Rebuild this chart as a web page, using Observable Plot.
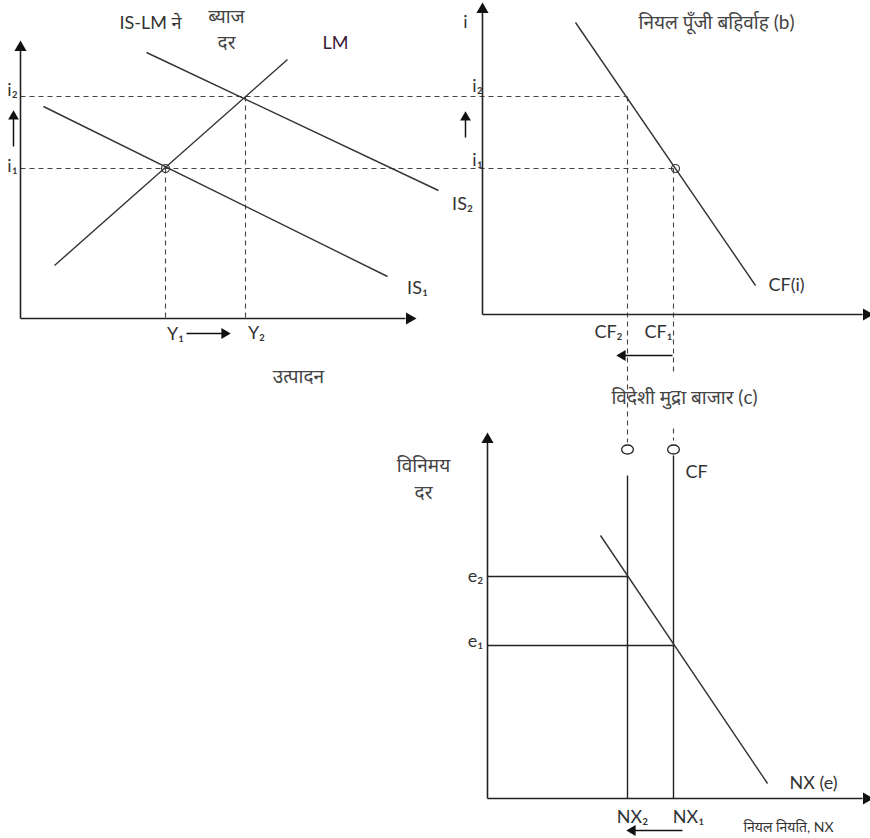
<!DOCTYPE html>
<html><head><meta charset="utf-8">
<script src="https://cdn.jsdelivr.net/npm/d3@7"></script>
<script src="https://cdn.jsdelivr.net/npm/@observablehq/plot@0.6"></script>
<style>body{margin:0;background:#fff} #chart svg{display:block}</style>
</head><body><div id="chart"></div><script>
// Diagram coordinate system: x to the right, y downward (0..870, 0..838)
const axisLines = [
  {x1: 20, y1: 318, x2: 20, y2: 50},
  {x1: 20, y1: 318, x2: 405, y2: 318},
  {x1: 482, y1: 314, x2: 482, y2: 12},
  {x1: 482, y1: 314, x2: 862, y2: 314},
  {x1: 487, y1: 798, x2: 487, y2: 442},
  {x1: 487, y1: 798, x2: 862, y2: 798}
];
const axisHeads = [
  {x: 20, y: 47, r: 0}, {x: 409, y: 318, r: 90},
  {x: 482, y: 9, r: 0}, {x: 866, y: 314, r: 90},
  {x: 487, y: 439, r: 0}, {x: 866, y: 798, r: 90}
];
const curves = [
  {name: "LM", x1: 54, y1: 265, x2: 287, y2: 59},
  {name: "IS1", x1: 43, y1: 106, x2: 387, y2: 276},
  {name: "IS2", x1: 146, y1: 52, x2: 438, y2: 190},
  {name: "CF(i)", x1: 575, y1: 22, x2: 755, y2: 285},
  {name: "NX(e)", x1: 600, y1: 535, x2: 767, y2: 783}
];
const dashedGuides = [
  {x1: 20, y1: 96, x2: 625, y2: 96},
  {x1: 20, y1: 168, x2: 673, y2: 168},
  {x1: 165, y1: 168, x2: 165, y2: 318},
  {x1: 245, y1: 96, x2: 245, y2: 318},
  {x1: 627, y1: 96, x2: 627, y2: 442},
  {x1: 673, y1: 168, x2: 673, y2: 375},
  {x1: 673, y1: 428, x2: 673, y2: 440}
];
const solidGuides = [
  {x1: 487, y1: 576, x2: 627, y2: 576},
  {x1: 487, y1: 645, x2: 673, y2: 645},
  {x1: 627, y1: 475, x2: 627, y2: 798},
  {x1: 673, y1: 455, x2: 673, y2: 798}
];
const arrows = [
  {x1: 186, y1: 333, x2: 224, y2: 333},
  {x1: 13, y1: 146, x2: 13, y2: 116},
  {x1: 465, y1: 137, x2: 465, y2: 117},
  {x1: 672, y1: 355, x2: 622, y2: 355},
  {x1: 682, y1: 830, x2: 632, y2: 830}
];
const equilibria = [{x: 165, y: 168}, {x: 675, y: 168}];
const openEnds = [{x: 627, y: 449}, {x: 673, y: 449}];
const labels = [
  {t: "IS-LM ने", x: 150, y: 23},
  {t: "IS₁", x: 417, y: 288},
  {t: "i₂", x: 12, y: 90},
  {t: "i₁", x: 12, y: 166},
  {t: "Y₁", x: 175, y: 334},
  {t: "Y₂", x: 256, y: 333},
  {t: "i", x: 465, y: 22},
  {t: "i₂", x: 477, y: 86},
  {t: "i₁", x: 477, y: 160},
  {t: "IS₂", x: 462, y: 204},
  {t: "CF(i)", x: 786, y: 285},
  {t: "CF₂", x: 608, y: 332},
  {t: "CF₁", x: 658, y: 332},
  {t: "CF", x: 696, y: 472},
  {t: "e₂", x: 475, y: 576},
  {t: "e₁", x: 475, y: 641},
  {t: "NX (e)", x: 813, y: 783},
  {t: "NX₂", x: 632, y: 817},
  {t: "NX₁", x: 688, y: 817}
];
const hindiLabels = [
  {t: "ब्याज", x: 226, y: 16},
  {t: "दर", x: 226, y: 42},
  {t: "उत्पादन", x: 298, y: 376},
  {t: "नियल पूँजी बहिर्वाह (b)", x: 716, y: 22},
  {t: "विदेशी मुद्रा बाजार (c)", x: 684, y: 397},
  {t: "विनिमय", x: 423, y: 465},
  {t: "दर", x: 423, y: 492}
];
const accentLabels = [{t: "LM", x: 335, y: 43}];
const smallLabels = [{t: "नियल नियति, NX", x: 788, y: 827}];

const heads = arrows.map(a => ({
  x: a.x2, y: a.y2,
  r: Math.atan2(a.x2 - a.x1, -(a.y2 - a.y1)) * 180 / Math.PI
}));
const ellipse = {
  draw(ctx, size) {
    const r = Math.sqrt(size / Math.PI), rx = r * 1.3, ry = r, k = 0.5523;
    ctx.moveTo(rx, 0);
    ctx.bezierCurveTo(rx, ry * k, rx * k, ry, 0, ry);
    ctx.bezierCurveTo(-rx * k, ry, -rx, ry * k, -rx, 0);
    ctx.bezierCurveTo(-rx, -ry * k, -rx * k, -ry, 0, -ry);
    ctx.bezierCurveTo(rx * k, -ry, rx, -ry * k, rx, 0);
    ctx.closePath();
  }
};
const seg = {x1: "x1", y1: "y1", x2: "x2", y2: "y2"};
const font = "Lato, 'Open Sans', 'Noto Sans', sans-serif";

const chart = Plot.plot({
  width: 870, height: 838, margin: 0,
  x: {domain: [0, 870], range: [0, 870], axis: null},
  y: {domain: [0, 838], range: [0, 838], axis: null},
  style: {fontFamily: font, background: "#fff"},
  marks: [
    Plot.link(dashedGuides, {...seg, stroke: "#444", strokeWidth: 1.1, strokeDasharray: "5,4"}),
    Plot.link(solidGuides, {...seg, stroke: "#222", strokeWidth: 1.4}),
    Plot.link(curves, {...seg, stroke: "#333", strokeWidth: 1.4}),
    Plot.link(axisLines, {...seg, stroke: "#222", strokeWidth: 1.6}),
    Plot.dot(axisHeads, {x: "x", y: "y", rotate: "r", symbol: "triangle", r: 4.5, fill: "#111", stroke: null}),
    Plot.link(arrows, {...seg, stroke: "#111", strokeWidth: 1.5}),
    Plot.dot(heads, {x: "x", y: "y", rotate: "r", symbol: "triangle", r: 4, fill: "#111", stroke: null}),
    Plot.dot(equilibria, {x: "x", y: "y", r: 4, stroke: "#333", fill: "none", strokeWidth: 1.2}),
    Plot.dot(openEnds, {x: "x", y: "y", r: 4.5, symbol: ellipse, stroke: "#222", fill: "white", strokeWidth: 1.3}),
    Plot.text(labels, {x: "x", y: "y", text: "t", fontSize: 18, fill: "#333"}),
    Plot.text(hindiLabels, {x: "x", y: "y", text: "t", fontSize: 19, fill: "#444"}),
    Plot.text(accentLabels, {x: "x", y: "y", text: "t", fontSize: 18, fill: "#3d1838"}),
    Plot.text(smallLabels, {x: "x", y: "y", text: "t", fontSize: 14, fill: "#333"})
  ]
});
document.getElementById("chart").append(chart);
</script></body></html>
